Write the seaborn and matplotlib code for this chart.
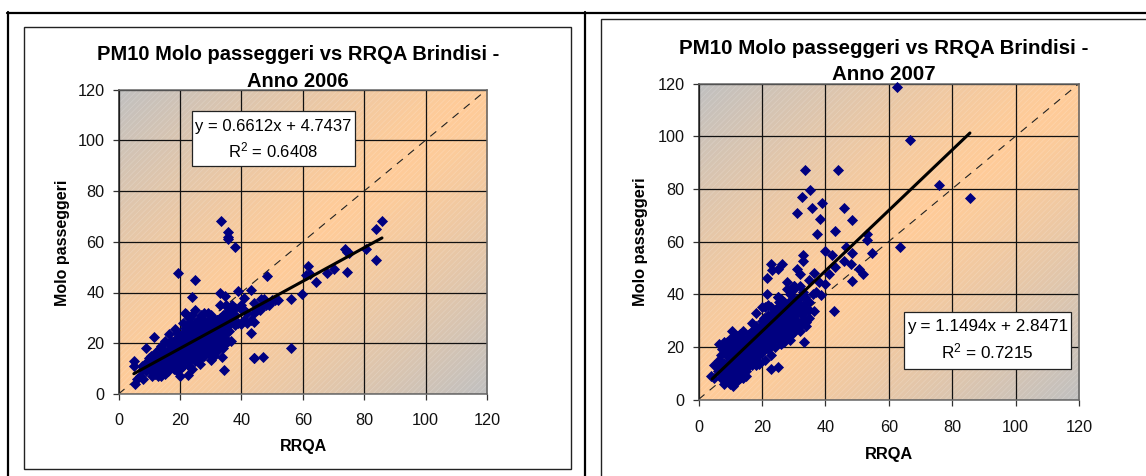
import numpy as np
import pandas as pd
import matplotlib
matplotlib.use("Agg")
import matplotlib.pyplot as plt
from matplotlib.patches import Rectangle
from matplotlib.colors import LinearSegmentedColormap
import seaborn as sns

points_2006 = [(33.3,68.3),(35.7,64),(35.6,62),(35.6,61.2),(37.8,58),(19.5,47.5),(25,45),(48.5,46.5),(23.8,38.2),(33,40),(34.7,38.7),
 (39,40.5),(43.3,41),(41,38),(44,36),(46.5,37.5),(47.5,37.5),(56.3,37.5),(59.8,39.5),(61,47),(61.8,50.5),(62.2,47.2),(64.4,44),
 (67.8,47.5),(70.2,49.3),(73.8,57),(74.5,56),(75,55.5),(74.3,48),(80.5,57.3),(83.8,53),(84,65),(85.8,68),(56.2,18),(47.2,14.5),
 (44.2,14),(44,14),(33.7,14.5),(34.5,9.5),(30,13.5),(26.5,12),(22.5,7.5),(20,7),(43,24),(36.5,21),(35.5,21),
 (5,13),(5,11),(5.5,4),(6,6),(7,7),(8,6),(9,18),(9.5,13),(10,12),(11,7),(11.5,22.5),(12,10),(13,9),(14,7),(14.5,13),(15,16),(16,12),
 (17,15),(16.5,23.5),(18.5,25.5),(19,12),(20,10),(21,15),(21.5,26),(22,14),(23,13),(24,10),(7.5,11),(8.5,12),(10,14),(11,10),(12,12),
 (13,14),(14,19),(15,21),(16,13),(17,17),(18,19),(19,13),(20,16),(21,19),(22,31.5),(23,18),(24,20),(25,33),(26,20),(27,22),(28,18),
 (29,20),(30,24),(31,21),(32,19),(33,23),(34,25),(35,20),(10.5,15),(12,16),(13.5,18),(15,17),(16.5,20),(18,16),(19.5,18),(21,15),
 (22.5,22),(24,18),(25.5,19),(27,17),(28.5,24),(30,19),(31.5,22),(33,26),(34.5,24),(36,27),(37.5,28),(39,28),(16,14),(18,12),(20,13),
 (22,17),(24,15),(26,21),(28,25),(30,27),(32,26),(34,31),(36,28),(38,31),(40,34),(42,32),(44,32),(46,33),(48,35),(50,37),(52,37),
 (21.5,32),(23,30),(25,28),(27,31),(29,32),(31,27),(33,35),(35,35),(37,33),(39.5,34),(41,33),(43,29),(45,33),(47,35),(49,35),(51,37),
 (26,25),(28,29),(30,31),(32,29),(34,30),(24,27),(26,23),(28,23),(30,27),(32,29),(18,19),(19,22),(21,24),(23,26),(25,19),(27,18),
 (29,16),(31,19),(33,24),(15.5,13),(17.5,16),(19.5,21),(22.5,20),(24.5,15),(26.5,17),(28.5,17),(30.5,20),(32.5,22),(34.5,27),(35.5,34),
 (8,10),(9,9),(10,10),(11,13),(12,14),(13,11),(14,15),(14,11),(15,13),(15,10),(16,16),(16,10),(17,13),(17,19),(18,14),(18,18),(19,16),
 (19,20),(20,15),(20,18),(20,21),(21,13),(21,17),(21,21),(22,15),(22,19),(22,23),(23,16),(23,20),(23,23),(24,17),(24,22),(24,25),(25,17),
 (25,21),(25,24),(26,16),(26,19),(26,26),(27,20),(27,24),(27,27),(28,20),(28,21),(28,27),(29,18),(29,22),(29,25),(29,28),(30,17),(30,22),
 (30,25),(31,18),(31,23),(31,25),(31,29),(32,21),(32,24),(32,27),(33,20),(33,22),(33,28),(34,22),(34,28),(35,24),(35,29),(36,25),(37,30),
 (13,12),(14,13),(15,15),(16,17),(17,12),(17,21),(18,21),(19,24),(20,23),(21,28),(23,28),(24,31),(26,29),(28,32),(30,30),(33,30),(36,31),
 (12,8),(13,7),(15,8),(16,9),(18,10),(19,9),(21,11),(23,11),(25,13),(27,14),(28,15),(31,15),(32,17),(34,18),
 (38,27),(40,27.5),(41,29),(42,28),(44,28.5),(37,35),(35,32),(38,34),(40,35)]

points_2007 = [(62.5,118.5),(66.7,98.5),(33.5,87),(44,87),(76,81.5),(35.2,79.5),(32.5,77),(85.5,76.5),(39,74.7),(35.8,72.8),(45.8,72.8),
 (31,70.8),(38.2,68.7),(48.5,68.2),(43,64),(37.3,63),(53,63),(53.2,60.5),(46.5,58),(63.5,58),(39.8,56.5),(42,55),(48.5,55.5),(54.8,55.5),
 (33,55),(33,52.5),(45.8,52.5),(48.2,51.5),(43,50.5),(23,51.5),(26.3,51.5),(25,49.5),(23.3,49),(31,49.5),(32,47.5),(36.5,48),(41.3,47.5),
 (50.5,49.5),(51.8,47.5),(21.5,46),(35,45.5),(38,44.5),(40,44),(48.5,45),(28,44.5),(30,43),(32,43),(30,42),(37,41),(36,40),(38.5,39.5),
 (21.5,40),(25,39),(33.5,39),(42.8,33.5),(36.5,33.5),(33.2,21.8),(29,22.5),(25.2,12.5),(22.8,11.5),(19,13.5),(21,15),(31.5,27),(34,29.5),
 (4,9),(5,13),(5,8),(6,11),(6.5,21),(6.5,15),(7,8),(7,12),(8,22),(8,10),(9,22),(9,17),(9,13),(10,20),(10,7),(10.5,26),(10.5,15),(11,6),
 (11,18),(12,24),(12,9),(12,14),(13,22),(13,17),(13.5,10),(14,26),(14,12),(15,20),(15,9),(15,15),(16,25),(16,18),(17,29),(17,20),(18,13),
 (18,23),(18,33),(19,27),(19,19),(19,14),(20,35),(20,24),(20,18),(21,35),(21,25),(21,21),(22,36),(22,29),(22,19),(23,32),(23,25),(23,17),
 (24,34),(24,27),(24,20),(25,39),(25,30),(25,23),(26,38),(26,28),(26,21),(27,33),(27,26),(27,22),(28,36),(28,30),(28,24),(29,40),(29,31),
 (29,24),(30,36),(30,28),(30,43),(31,30),(31,38),(32,26),(32,34),(33,30),(33,36),(34,28),(35,31),(35,34),
 (8,9),(9.5,16),(11.5,24),(12.5,11),(14.5,19),(16.5,24),(17.5,15),(19.5,22),(20.5,31),(21.5,27),(22.5,29),(23.5,23),(24.5,31),(25.5,37),
 (26.5,24),(27.5,35),(28.5,37),(29.5,31),(30.5,26),(31.5,38),(32.5,32),(33.5,34),(10,6),(11,5),(12,12),(13,19),(14,21),(15,11),(16,17),
 (17,24),(18,28),(22,21),(24,29),(26,33),(28,42),(7.5,19),(9,14),(10.5,10),(8.5,18),
 (7,17),(8,14),(8,19),(9,11),(9,19),(10,11),(10,13),(10,17),(10,23),(11,9),(11,12),(11,16),(11,21),(12,11),(12,16),(12,19),(12,22),(13,12),
 (13,15),(13,20),(13,25),(14,14),(14,17),(14,23),(15,13),(15,17),(15,23),(16,15),(16,20),(16,22),(17,15),(17,18),(17,22),(17,26),(18,17),
 (18,20),(18,25),(19,17),(19,22),(19,25),(20,20),(20,22),(20,27),(20,30),(21,19),(21,23),(21,27),(21,30),(22,22),(22,24),(22,26),(22,32),
 (23,21),(23,23),(23,28),(23,35),(24,23),(24,25),(24,30),(24,32),(25,25),(25,27),(25,33),(25,35),(26,24),(26,30),(26,35),(27,24),(27,28),
 (27,30),(27,37),(28,26),(28,28),(28,33),(29,27),(29,29),(29,34),(29,37),(30,30),(30,33),(30,38),(31,33),(31,35),(32,29),(32,36),(32,39),
 (33,33),(33,41),(34,34),(35,37),(8,6),(9,8),(10,9),(11,7),(12,7),(13,8),(14,8),(14,10),(15,12),(16,13),(17,13),(18,16)]

x_2006 = [p[0] for p in points_2006]
y_2006 = [p[1] for p in points_2006]
x_2007 = [p[0] for p in points_2007]
y_2007 = [p[1] for p in points_2007]

trend_x_2006 = [5, 85.8]
trend_y_2006 = [8.0, 61.5]
trend_x_2007 = [4.3, 85.6]
trend_y_2007 = [7.8, 101.2]
unity = [0, 120]
ticks = [0, 20, 40, 60, 80, 100, 120]

sns.set_theme(style="white")
plt.rcParams['font.family'] = ['Liberation Sans', 'DejaVu Sans']
plt.rcParams['mathtext.fontset'] = 'custom'
plt.rcParams['mathtext.rm'] = 'Liberation Sans'
plt.rcParams['mathtext.default'] = 'regular'
plt.rcParams['hatch.linewidth'] = 0.5

W, H = 1146, 476
fig = plt.figure(figsize=(W/100, H/100), dpi=100, facecolor='white')

def fx(p): return p/W
def fy(p): return 1-p/H

def frame(x0, y0, x1, y1, lw, col):
    fig.add_artist(Rectangle((fx(x0), fy(y1)), (x1-x0)/W, (y1-y0)/H, transform=fig.transFigure,
                             fill=False, edgecolor=col, linewidth=lw, zorder=0))

# table rules
for xs, ys in [((7, W), (12.5, 12.5)), ((7.5, 7.5), (12, H)), ((585, 585), (12, H))]:
    fig.add_artist(plt.Line2D([fx(a) for a in xs], [fy(b) for b in ys], color='black', lw=1.6))
frame(23.5, 27, 571, 469, 1.0, '#222222')
frame(601, 19, W+5, H+5, 1.0, '#222222')

cmap = LinearSegmentedColormap.from_list('g', ['#FFCC99', '#C0C0C0'])
u, v = np.meshgrid(np.linspace(0, 1, 300), np.linspace(0, 1, 300))
grad = np.abs(u - v) ** 1.3

def panel(box, xs, ys, tx, ty, title, tsize, tpos, ylab, xlab, lsize, eq, eqsize, eqbox, xtl_pad):
    x0, x1, ytop, ybot = box
    ax = fig.add_axes([fx(x0), fy(ybot), (x1-x0)/W, (ybot-ytop)/H])
    ax.imshow(grad, extent=[0, 120, 0, 120], origin='lower', aspect='auto', cmap=cmap, vmin=0, vmax=1, zorder=0)
    ax.add_patch(Rectangle((0, 0), 120, 120, fill=False, hatch='//////', edgecolor=(1, 1, 1, 0.2), lw=0, zorder=0.5))
    ax.set_axisbelow(True)
    ax.grid(True, color='#111111', lw=0.9, zorder=1)
    sns.lineplot(x=unity, y=unity, ax=ax, color='#222222', lw=0.8, linestyle=(0, (7, 6)), zorder=2, errorbar=None)
    df = pd.DataFrame({'RRQA': xs, 'Molo': ys})
    sns.scatterplot(data=df, x='RRQA', y='Molo', ax=ax, marker='D', s=32, color='#000080', edgecolor='#000080',
                    linewidth=0, zorder=3, clip_on=False)
    sns.lineplot(x=tx, y=ty, ax=ax, color='black', lw=2.2, zorder=4, errorbar=None)
    ax.set_xlim(0, 120); ax.set_ylim(0, 120)
    ax.set_xticks(ticks); ax.set_yticks(ticks)
    ax.tick_params(axis='both', labelsize=11.7, length=4, width=0.9, color='#333333', labelcolor='#111111', pad=xtl_pad, bottom=True, left=True)
    ax.tick_params(axis='y', pad=6)
    for s in ax.spines.values():
        s.set_visible(True); s.set_color('#666666'); s.set_linewidth(1.1)
    ax.spines['left'].set_color('#222222')
    ax.set_xlabel('RRQA', fontsize=lsize, fontweight='bold', color='black')
    ax.set_ylabel('Molo passeggeri', fontsize=lsize, fontweight='bold', color='black')
    ax.xaxis.set_label_coords((xlab[0]-x0)/(x1-x0), (ybot-xlab[1])/(ybot-ytop))
    ax.yaxis.set_label_coords((ylab[0]-x0)/(x1-x0), (ybot-ylab[1])/(ybot-ytop))
    ax.xaxis.label.set_va('center'); ax.yaxis.label.set_va('center')
    ax.set_title(title, fontsize=tsize, fontweight='bold', color='black', linespacing=1.5,
                 x=(tpos[0]-x0)/(x1-x0), y=(ybot-tpos[1])/(ybot-ytop), va='center', zorder=6)
    bx0, bx1, by0, by1 = eqbox
    fig.add_artist(Rectangle((fx(bx0), fy(by1)), (bx1-bx0)/W, (by1-by0)/H, transform=fig.transFigure,
                             facecolor='white', edgecolor='#222222', lw=0.9, zorder=8))
    fig.text(fx((bx0+bx1)/2), fy(by0+15), eq[0], fontsize=eqsize, ha='center', va='center', color='black', zorder=9)
    fig.text(fx((bx0+bx1)/2), fy(by0+39), eq[1], fontsize=eqsize, ha='center', va='center', color='black', zorder=9)
    return ax

panel((118.5, 487, 89.5, 394), x_2006, y_2006, trend_x_2006, trend_y_2006,
      'PM10 Molo passeggeri vs RRQA Brindisi -\nAnno 2006', 14.5, (298, 76.5), (63, 243), (303, 447), 11.5,
      ('y = 0.6612x + 4.7437', 'R$^{2}$ = 0.6408'), 12, (192, 354.5, 111, 166), 10)
panel((698.5, 1079, 83.5, 399.5), x_2007, y_2007, trend_x_2007, trend_y_2007,
      'PM10 Molo passeggeri vs RRQA Brindisi -\nAnno 2007', 14.8, (884, 70), (641, 242), (889, 454), 11.8,
      ('y = 1.1494x + 2.8471', 'R$^{2}$ = 0.7215'), 12.3, (903.5, 1071, 312, 369), 11)

fig.savefig('out.png', dpi=100, facecolor='white')
